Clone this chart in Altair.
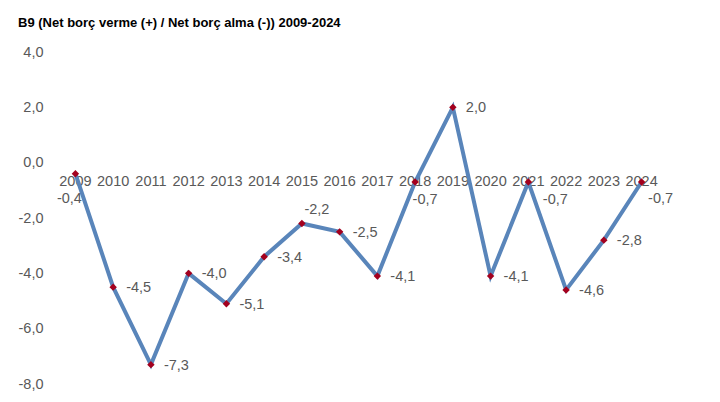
import altair as alt
import pandas as pd

years = [str(y) for y in range(2009, 2025)]
values = [-0.4, -4.5, -7.3, -4.0, -5.1, -3.4, -2.2, -2.5, -4.1, -0.7, 2.0, -4.1, -0.7, -4.6, -2.8, -0.7]
y_ticks = [-8, -6, -4, -2, 0, 2, 4]
title_text = "B9 (Net borç verme (+) / Net borç alma (-)) 2009-2024"

df = pd.DataFrame({"year": years, "value": values})
df["label"] = [f"{v:.1f}".replace(".", ",") for v in values]
df["zero"] = 0

FONT = "Liberation Sans"
GREY = "#595959"
LINE = "#5985ba"
MARK = "#a3001e"

# label placement styles (dx, dy, align) for special points
special = {
    "2009": (-6, 25, "center"),
    "2015": (15, -14, "center"),
    "2018": (10, 18, "center"),
    "2021": (27, 18, "center"),
    "2024": (19, 17, "center"),
}

xenc = alt.X("year:O", scale=alt.Scale(type="point", padding=0.7), axis=None)
yenc = alt.Y(
    "value:Q",
    scale=alt.Scale(domain=[-8, 4], nice=False, zero=False),
    axis=alt.Axis(
        values=y_ticks,
        title=None,
        grid=False,
        domain=False,
        ticks=False,
        tickSize=0,
        labelPadding=6,
        labelFont=FONT,
        labelFontSize=14.5,
        labelColor=GREY,
        labelExpr="replace(replace(format(datum.value, '.1f'), '.', ','), '\u2212', '-')",
    ),
)

base = alt.Chart(df)

year_labels = base.mark_text(dy=19, fontSize=14.5, font=FONT, color=GREY, baseline="middle").encode(
    x=xenc, y=alt.Y("zero:Q"), text="year:N"
)
line = base.mark_line(color=LINE, strokeWidth=4).encode(x=xenc, y=yenc)
points = base.mark_point(shape="diamond", filled=True, color=MARK, size=55, opacity=1).encode(x=xenc, y="value:Q")

layers = [year_labels, line, points]
normal_years = [y for y in years if y not in special]
layers.append(
    base.transform_filter(alt.FieldOneOfPredicate(field="year", oneOf=normal_years))
    .mark_text(dx=13, dy=1, align="left", baseline="middle", fontSize=14.5, font=FONT, color=GREY)
    .encode(x=xenc, y="value:Q", text="label:N")
)
for yr, (dx, dy, al) in special.items():
    layers.append(
        base.transform_filter(alt.datum.year == yr)
        .mark_text(dx=dx, dy=dy, align=al, baseline="middle", fontSize=14.5, font=FONT, color=GREY)
        .encode(x=xenc, y="value:Q", text="label:N")
    )

chart = (
    alt.layer(*layers)
    .properties(
        width=619,
        height=332,
        autosize=alt.AutoSizeParams(type="none"),
        padding={"left": 41, "top": 44, "right": 40, "bottom": 10},
        title=alt.TitleParams(
            title_text,
            anchor="start",
            font=FONT,
            fontSize=13,
            fontWeight="bold",
            color="black",
            offset=14,
        ),
    )
    .configure_view(stroke=None)
)

chart.save("out.html", embed_options={"renderer": "svg", "actions": False})
